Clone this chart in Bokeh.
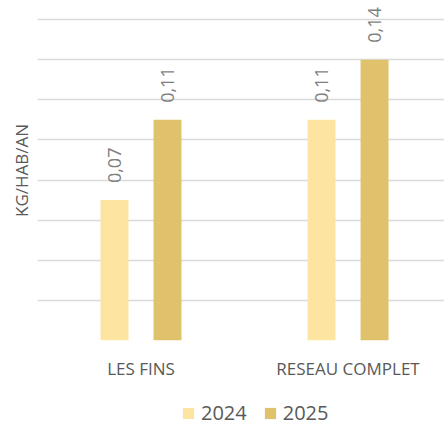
import math
from bokeh.plotting import figure
from bokeh.layouts import column
from bokeh.models import (ColumnDataSource, FixedTicker, Range1d, Legend,
                          LegendItem)
from bokeh.transform import dodge
from bokeh.embed import file_html
from bokeh.resources import INLINE
from bokeh.core.properties import value

# ---- data ----
categories = ["LES FINS", "RESEAU COMPLET"]
series_names = ["2024", "2025"]
values_2024 = [0.07, 0.11]
values_2025 = [0.11, 0.14]
y_ticks = [0.0, 0.02, 0.04, 0.06, 0.08, 0.10, 0.12, 0.14, 0.16]
y_label = "KG/HAB/AN"

# ---- style ----
FONT = "Open Sans"
COLORS = ["#FDE5A1", "#DFC26B"]
GRID = "#DADADA"
TXT = "#595959"
VAL_TXT = "#7F7F7F"
OFFSET = 0.128
BAR_W = 0.135

centers = [i + 0.5 for i in range(len(categories))]

p = figure(width=444, height=390,
           x_range=Range1d(0, 1.966), y_range=Range1d(0, 0.1695),
           output_backend="svg", toolbar_location=None,
           min_border_left=37, min_border_right=0,
           min_border_top=0, min_border_bottom=50)
p.outline_line_color = None
p.background_fill_color = "white"
p.border_fill_color = "white"

sources = []
for name, vals, col, off in zip(series_names, [values_2024, values_2025],
                                COLORS, [-OFFSET, OFFSET]):
    src = ColumnDataSource(dict(
        x=centers, top=vals,
        label=[("%.2f" % v).replace(".", ",") for v in vals]))
    sources.append(src)
    p.vbar(x=dodge("x", off, range=p.x_range), top="top", bottom=0,
           width=BAR_W, source=src, fill_color=col, line_color=None)
    p.text(x=dodge("x", off, range=p.x_range), y="top", text="label",
           source=src, angle=math.pi / 2, text_align="left",
           text_baseline="middle", y_offset=-17,
           text_font=value(FONT), text_font_size="18px", text_color=VAL_TXT)

# grids
p.xgrid.visible = False
p.ygrid.ticker = FixedTicker(ticks=y_ticks)
p.ygrid.grid_line_color = GRID
p.ygrid.grid_line_width = 1.5

# y axis: label only
yax = p.yaxis[0]
yax.ticker = FixedTicker(ticks=[])
yax.axis_line_color = None
yax.major_tick_line_color = None
yax.minor_tick_line_color = None
yax.major_tick_out = 0
yax.major_tick_in = 0
yax.minor_tick_out = 0
yax.major_label_standoff = 0
yax.axis_label = y_label
yax.axis_label_standoff = 5
yax.axis_label_text_font = FONT
yax.axis_label_text_font_size = "17px"
yax.axis_label_text_font_style = "normal"
yax.axis_label_text_color = TXT

# x axis: category labels
xax = p.xaxis[0]
xax.ticker = FixedTicker(ticks=centers)
xax.major_label_overrides = {c: n for c, n in zip(centers, categories)}
xax.axis_line_color = None
xax.major_tick_line_color = None
xax.minor_tick_line_color = None
xax.major_tick_out = 0
xax.major_tick_in = 0
xax.minor_tick_out = 0
xax.major_label_standoff = 16
xax.major_label_text_font = FONT
xax.major_label_text_font_size = "17px"
xax.major_label_text_color = TXT

# ---- legend strip (same series, bars kept out of its visible range) ----
lg = figure(width=444, height=37, x_range=Range1d(0, 1.966),
            y_range=Range1d(1, 2),
            output_backend="svg", toolbar_location=None,
            x_axis_location=None, y_axis_location=None,
            min_border_left=0, min_border_right=0,
            min_border_top=0, min_border_bottom=0)
lg.outline_line_color = None
lg.xgrid.visible = False
lg.ygrid.visible = False
items = []
for name, col, src in zip(series_names, COLORS, sources):
    r = lg.vbar(x="x", top="top", bottom=0, width=BAR_W, source=src,
                fill_color=col, line_color=None)
    items.append(LegendItem(label=name, renderers=[r]))
legend = Legend(items=items, location=(144, 1), orientation="horizontal",
                background_fill_alpha=0, border_line_alpha=0,
                padding=0, margin=0, spacing=16, label_standoff=6,
                glyph_width=14, glyph_height=14,
                label_text_font=FONT, label_text_font_size="20px",
                label_text_color=TXT)
lg.add_layout(legend)

layout = column(p, lg, spacing=0)
open("out.html", "w").write(file_html(layout, INLINE))
